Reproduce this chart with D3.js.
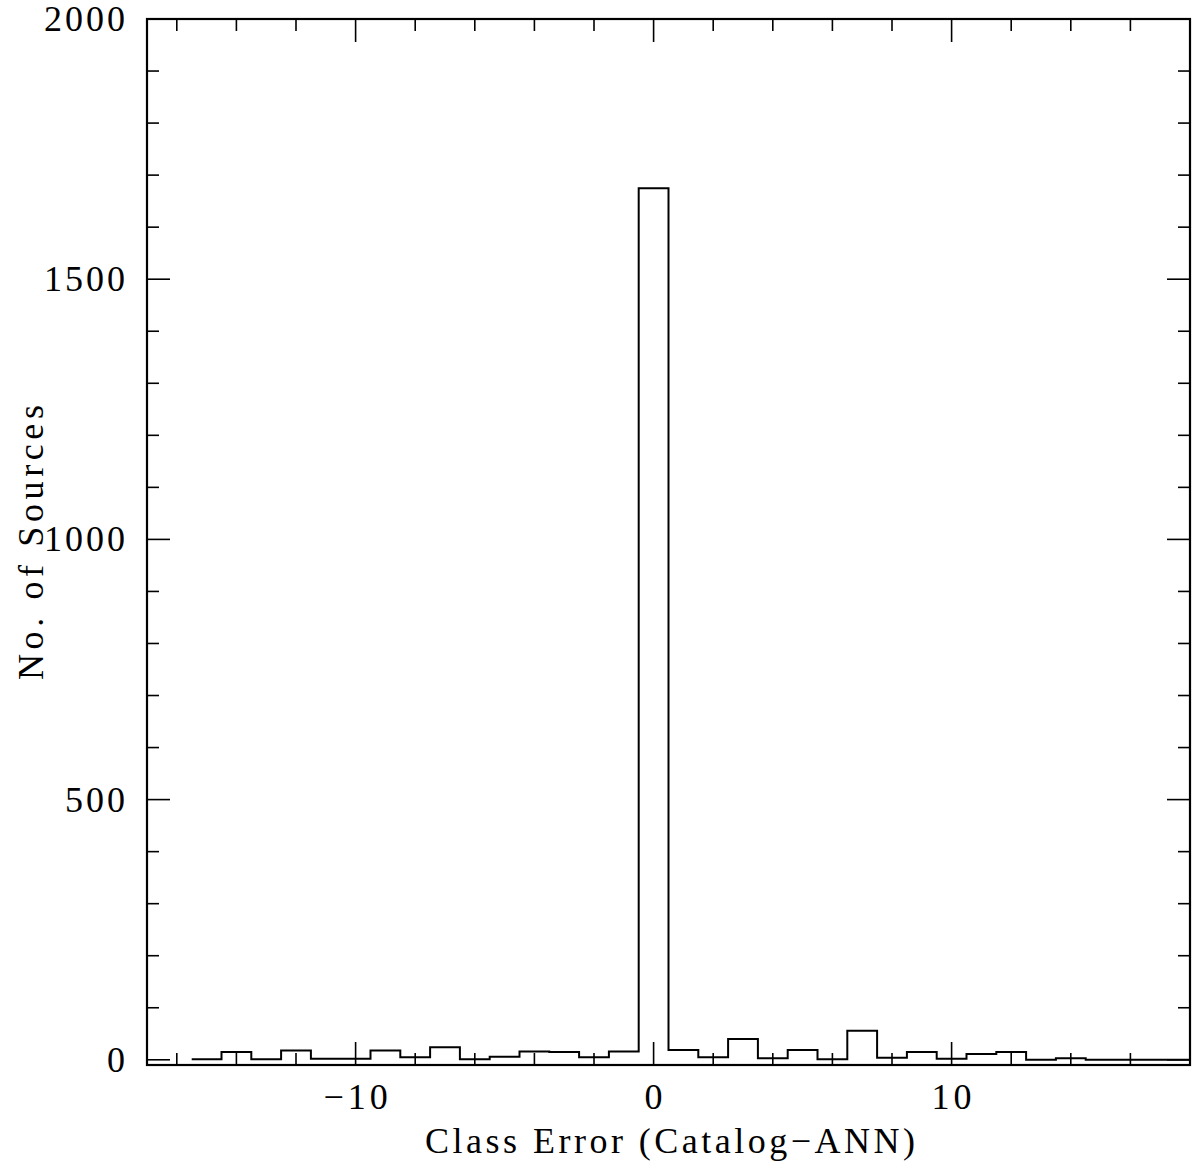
<!DOCTYPE html>
<html lang="en">
<head>
  <meta charset="UTF-8">
  <title>Class Error histogram</title>
  <style>
    body { margin: 0; background: #fff; }
    text { font-family: "Liberation Serif", serif; fill: #000; }
  </style>
  <script src="https://d3js.org/d3.v7.min.js"></script>
</head>
<body>
  <div id="chart"></div>
  <script>
    // bin centres (Catalog - ANN class difference), one unit wide
    const binCenters = [-15, -14, -13, -12, -11, -10, -9, -8, -7, -6, -5, -4, -3, -2, -1,
                        0, 1, 2, 3, 4, 5, 6, 7, 8, 9, 10, 11, 12, 13, 14, 15, 16, 17, 18];
    const counts = [1, 15, 1, 18, 2, 2, 18, 5, 24, 1, 6, 16, 15, 5, 16,
                    1675, 19, 5, 40, 3, 19, 1, 56, 4, 15, 2, 11, 15, 0, 3, 0, 0, 0, 0];

    const xMajor = [-10, 0, 10];
    const yMajor = [0, 500, 1000, 1500, 2000];

    const width = 1193, height = 1170;
    const mLeft = 147, mRight = 1190, mTop = 19, mBottom = 1065;

    const x = d3.scaleLinear().domain([-17, 18]).range([mLeft, mRight]);
    const y = d3.scaleLinear().domain([-10, 2000]).range([mBottom, mTop]);

    const svg = d3.create("svg")
        .attr("width", width)
        .attr("height", height);

    svg.append("clipPath").attr("id", "plot")
      .append("rect")
        .attr("x", mLeft).attr("y", mTop)
        .attr("width", mRight - mLeft).attr("height", mBottom - mTop);

    // histogram as a step outline
    const pts = [];
    binCenters.forEach((c, i) => {
      pts.push([c - 0.5, counts[i]]);
      pts.push([c + 0.5, counts[i]]);
    });
    const line = d3.line().x(d => x(d[0])).y(d => y(d[1]));

    svg.append("path")
        .attr("clip-path", "url(#plot)")
        .attr("d", line(pts))
        .attr("fill", "none")
        .attr("stroke", "#000")
        .attr("stroke-width", 2);

    // ticks on all four sides
    const ticks = svg.append("g").attr("stroke", "#000").attr("stroke-width", 1.6);
    d3.range(-16, 19, 2).forEach(v => {
      const len = xMajor.includes(v) ? 23 : 12;
      ticks.append("line").attr("x1", x(v)).attr("x2", x(v)).attr("y1", mBottom).attr("y2", mBottom - len);
      ticks.append("line").attr("x1", x(v)).attr("x2", x(v)).attr("y1", mTop).attr("y2", mTop + len);
    });
    d3.range(0, 2001, 100).forEach(v => {
      const len = yMajor.includes(v) ? 23 : 12;
      ticks.append("line").attr("x1", mLeft).attr("x2", mLeft + len).attr("y1", y(v)).attr("y2", y(v));
      ticks.append("line").attr("x1", mRight).attr("x2", mRight - len).attr("y1", y(v)).attr("y2", y(v));
    });

    // frame
    svg.append("rect")
        .attr("x", mLeft).attr("y", mTop)
        .attr("width", mRight - mLeft).attr("height", mBottom - mTop)
        .attr("fill", "none")
        .attr("stroke", "#000")
        .attr("stroke-width", 2.2);

    // tick labels
    svg.append("g").selectAll("text")
      .data(xMajor)
      .join("text")
        .attr("x", v => x(v) + 2)
        .attr("y", 1109)
        .attr("text-anchor", "middle")
        .style("font-size", "36px")
        .style("letter-spacing", "4px")
        .text(v => v < 0 ? "\u2212" + Math.abs(v) : v);

    svg.append("g").selectAll("text")
      .data(yMajor)
      .join("text")
        .attr("x", 128)
        .attr("y", v => y(v) + 12)
        .attr("text-anchor", "end")
        .style("font-size", "36px")
        .style("letter-spacing", "3px")
        .text(v => v);

    // axis titles
    svg.append("text")
        .attr("x", 425)
        .attr("y", 1153)
        .attr("textLength", 490)
        .attr("lengthAdjust", "spacing")
        .style("font-size", "36px")
        .text("Class Error (Catalog\u2212ANN)");

    svg.append("text")
        .attr("transform", "translate(43,680) rotate(-90)")
        .attr("textLength", 275)
        .attr("lengthAdjust", "spacing")
        .style("font-size", "36px")
        .text("No. of Sources");

    document.getElementById("chart").appendChild(svg.node());
  </script>
</body>
</html>
